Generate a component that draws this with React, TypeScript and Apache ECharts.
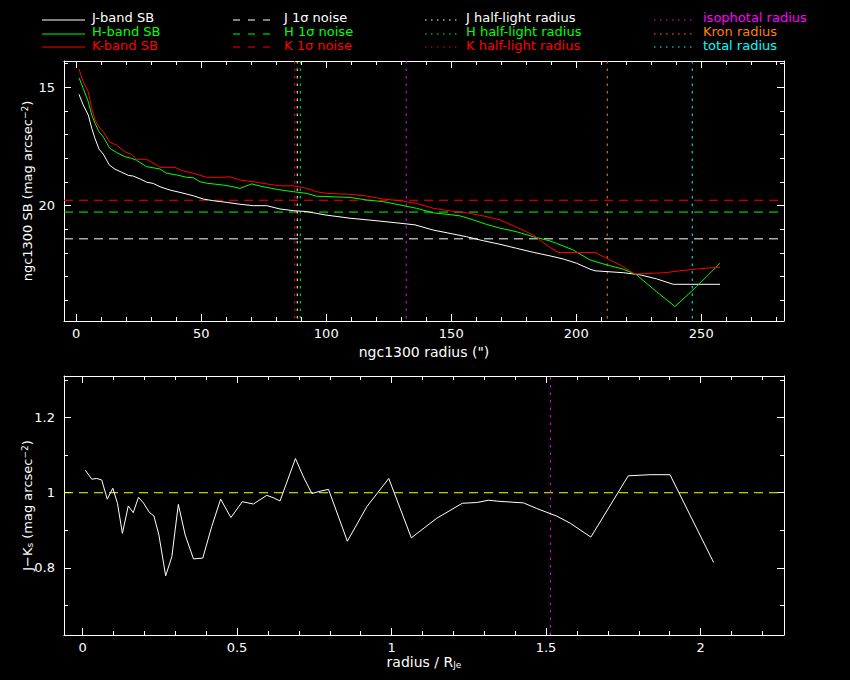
import React, { useEffect, useRef } from "react";
import * as echarts from "echarts";

// ---------- data ----------
// surface-brightness profiles: [radius (arcsec), SB (mag arcsec^-2)]
const J_SB: number[][] = [
  [1.1, 15.3], [2.8, 15.75], [4.8, 16.17], [6.2, 16.73], [7.5, 17.16], [9.1, 17.61], [10.8, 17.82],
  [13.2, 18.28], [15.5, 18.46], [18.2, 18.59], [20.8, 18.72], [22.8, 18.75], [25.5, 18.87], [28.2, 19.01],
  [30.8, 19.06], [33.5, 19.2], [37.5, 19.34], [41.5, 19.44], [46.8, 19.58], [50.8, 19.72], [54.8, 19.79],
  [60.2, 19.86], [65.5, 19.94], [70.8, 20.0], [76.2, 20.0], [81.5, 20.14], [86.8, 20.21], [92.2, 20.25],
  [99.5, 20.39], [109.5, 20.53], [119.5, 20.63], [129.5, 20.74], [135.5, 20.81], [142.8, 21.03],
  [149.5, 21.17], [156.1, 21.31], [162.8, 21.48], [169.5, 21.63], [176.1, 21.8], [182.8, 21.97],
  [189.5, 22.12], [194.8, 22.25], [200.1, 22.43], [205.5, 22.68], [207.5, 22.75], [218.8, 22.83],
  [225.5, 22.92], [232.1, 23.09], [238.8, 23.32], [245.5, 23.32], [257.5, 23.32],
];
const H_SB: number[][] = [
  [1.1, 14.6], [2.8, 15.05], [4.8, 15.61], [6.2, 16.17], [7.5, 16.52], [9.1, 16.88], [10.8, 17.09],
  [13.4, 17.58], [16.1, 17.75], [19.4, 17.93], [22.1, 18.0], [24.1, 18.08], [28.1, 18.35], [33.5, 18.45],
  [36.1, 18.63], [40.1, 18.7], [44.1, 18.8], [46.8, 18.82], [49.5, 18.99], [52.1, 19.05], [58.8, 19.13],
  [62.8, 19.2], [65.5, 19.27], [70.2, 19.08], [73.5, 19.17], [80.2, 19.31], [86.8, 19.41], [92.2, 19.48],
  [96.1, 19.6], [109.5, 19.65], [116.1, 19.76], [122.8, 19.83], [129.5, 19.97], [136.1, 20.11],
  [142.8, 20.3], [149.5, 20.38], [153.5, 20.43], [158.8, 20.6], [164.1, 20.79], [169.5, 20.95],
  [176.1, 21.1], [182.8, 21.31], [189.5, 21.49], [192.1, 21.59], [198.8, 21.87], [205.5, 22.29],
  [212.1, 22.5], [218.8, 22.68], [224.1, 22.92], [232.1, 23.63], [239.5, 24.26], [248.1, 23.42],
  [257.5, 22.43],
];
const K_SB: number[][] = [
  [1.1, 14.23], [2.8, 14.77], [4.8, 15.19], [6.2, 15.89], [7.5, 16.38], [9.1, 16.67], [10.8, 16.88],
  [13.4, 17.32], [16.1, 17.44], [19.4, 17.72], [22.1, 17.83], [24.1, 18.04], [28.1, 18.04], [31.5, 18.25],
  [33.5, 18.38], [39.5, 18.38], [42.8, 18.54], [46.8, 18.63], [52.1, 18.8], [58.8, 18.8], [61.5, 18.78],
  [65.5, 18.92], [70.8, 18.99], [76.1, 19.08], [81.5, 19.16], [86.8, 19.16], [92.2, 19.27], [96.1, 19.41],
  [100.1, 19.48], [109.5, 19.52], [116.1, 19.59], [122.8, 19.72], [129.5, 19.79], [136.1, 19.9],
  [142.8, 20.11], [149.5, 20.22], [156.1, 20.3], [162.8, 20.43], [169.5, 20.6], [176.1, 20.91],
  [182.8, 21.24], [189.5, 21.76], [192.8, 21.98], [207.5, 21.98], [212.1, 22.22], [217.5, 22.5],
  [223.5, 22.89], [226.8, 22.87], [235.5, 22.83], [241.5, 22.75], [248.1, 22.68], [252.1, 22.64],
  [257.5, 22.6],
];

// 1-sigma noise levels (mag arcsec^-2)
const J_NOISE = 21.4;
const H_NOISE = 20.27;
const K_NOISE = 19.77;

// characteristic radii (arcsec)
const J_HALF = 88.4;
const H_HALF = 89.6;
const K_HALF = 87.4;
const ISO_R = 132.0;
const KRON_R = 212.4;
const TOTAL_R = 246.4;

// J-Ks colour profile: [radius / R_Je, J-Ks]
const JK_COLOR: number[][] = [
  [0.009, 1.06], [0.03, 1.036], [0.046, 1.038], [0.062, 1.034], [0.08, 0.983], [0.098, 1.012],
  [0.113, 0.972], [0.129, 0.892], [0.148, 0.965], [0.164, 0.947], [0.181, 0.988], [0.197, 0.973],
  [0.216, 0.948], [0.231, 0.938], [0.247, 0.888], [0.269, 0.779], [0.289, 0.83], [0.31, 0.969],
  [0.332, 0.888], [0.359, 0.824], [0.389, 0.826], [0.418, 0.91], [0.447, 0.983], [0.48, 0.934],
  [0.517, 0.976], [0.553, 0.97], [0.596, 0.993], [0.617, 0.987], [0.639, 0.978], [0.689, 1.091],
  [0.715, 1.042], [0.742, 0.998], [0.769, 1.004], [0.796, 1.009], [0.857, 0.871], [0.92, 0.963],
  [0.991, 1.038], [1.064, 0.88], [1.146, 0.932], [1.229, 0.972], [1.276, 0.974], [1.313, 0.98],
  [1.351, 0.977], [1.427, 0.973], [1.47, 0.958], [1.534, 0.938], [1.578, 0.919], [1.645, 0.882],
  [1.766, 1.045], [1.836, 1.048], [1.901, 1.048], [2.042, 0.815],
];
const JK_REF = 1.0;
const ISO_R_NORM = 1.514;

// axis ranges
const R_RANGE = [-4.9, 283.1];
const SB_RANGE = [13.89, 24.87];
const RN_RANGE = [-0.06, 2.27];
const JK_RANGE = [0.6215, 1.3106];

// tick values
const R_MAJOR = [0, 50, 100, 150, 200, 250];
const R_MINOR = [10, 20, 30, 40, 60, 70, 80, 90, 110, 120, 130, 140, 160, 170, 180, 190, 210, 220, 230, 240, 260, 270, 280];
const SB_MAJOR = [15, 20];
const SB_MINOR = [14, 16, 17, 18, 19, 21, 22, 23, 24];
const RN_MAJOR = [0, 0.5, 1, 1.5, 2];
const RN_MINOR = [0.1, 0.2, 0.3, 0.4, 0.6, 0.7, 0.8, 0.9, 1.1, 1.2, 1.3, 1.4, 1.6, 1.7, 1.8, 1.9, 2.1, 2.2];
const JK_MAJOR = [0.8, 1, 1.2];
const JK_MINOR = [0.7, 0.9, 1.1, 1.3];

// ---------- styles ----------
const WHITE = "#ffffff";
const GREEN = "#00ff00";
const RED = "#ff0000";
const MAGENTA = "#ff00ff";
const ORANGE = "#ff8000";
const CYAN = "#00ffff";
const YELLOW = "#ffff00";
const FONT = "DejaVu Sans";
const DASH = [9, 6];
const DOT = [2.5, 5];

const LEGEND = [
  { col: 0, row: 0, label: "J-band SB", color: WHITE, dash: null },
  { col: 0, row: 1, label: "H-band SB", color: GREEN, dash: null },
  { col: 0, row: 2, label: "K-band SB", color: RED, dash: null },
  { col: 1, row: 0, label: "J 1σ noise", color: WHITE, dash: [7, 8] },
  { col: 1, row: 1, label: "H 1σ noise", color: GREEN, dash: [7, 8] },
  { col: 1, row: 2, label: "K 1σ noise", color: RED, dash: [7, 8] },
  { col: 2, row: 0, label: "J half-light radius", color: WHITE, dash: [1.5, 4.5] },
  { col: 2, row: 1, label: "H half-light radius", color: GREEN, dash: [1.5, 4.5] },
  { col: 2, row: 2, label: "K half-light radius", color: RED, dash: [1.5, 4.5] },
  { col: 3, row: 0, label: "isophotal radius", color: MAGENTA, dash: [1.5, 4.5] },
  { col: 3, row: 1, label: "Kron radius", color: ORANGE, dash: [1.5, 4.5] },
  { col: 3, row: 2, label: "total radius", color: CYAN, dash: [1.5, 4.5] },
];
const LEG_COLS = [
  { x1: 42, x2: 85, tx: 92 },
  { x1: 233, x2: 278, tx: 284 },
  { x1: 425, x2: 457, tx: 466 },
  { x1: 654, x2: 693, tx: 703 },
];
const LEG_ROW_TEXT = [17, 31, 45];
const LEG_ROW_LINE = [20, 34, 47];

const richText = {
  sup: { fontSize: 9, fontFamily: FONT, color: WHITE, verticalAlign: "top", lineHeight: 14 },
  sub: { fontSize: 9, fontFamily: FONT, color: WHITE, verticalAlign: "bottom", lineHeight: 14 },
};

function axisSet(
  dim: "x" | "y",
  gridIndex: number,
  range: number[],
  major: number[],
  minor: number[],
  extra: any
) {
  const pos = dim === "x" ? ["bottom", "top"] : ["left", "right"];
  const base = {
    type: "value",
    gridIndex,
    min: range[0],
    max: range[1],
    inverse: !!extra.inverse,
    splitLine: { show: false },
    silent: true,
  };
  const tick = (vals: number[], len: number) => ({
    show: true,
    inside: true,
    length: len,
    customValues: vals,
    lineStyle: { color: WHITE, width: 1 },
  });
  const noLabel = { show: false };
  const axes: any[] = [];
  pos.forEach((p, i) => {
    axes.push({
      ...base,
      position: p,
      axisLine: { show: true, onZero: false, lineStyle: { color: WHITE, width: 1 } },
      axisTick: tick(major, 7),
      axisLabel:
        i === 0
          ? {
              show: true,
              customValues: major,
              color: WHITE,
              fontSize: 13,
              fontFamily: FONT,
              margin: dim === "x" ? 6 : 9,
            }
          : noLabel,
      ...(i === 0 ? extra.name : {}),
    });
    axes.push({
      ...base,
      position: p,
      axisLine: { show: false, onZero: false },
      axisTick: tick(minor, 4),
      axisLabel: noLabel,
    });
  });
  return axes;
}

function lineSeries(data: number[][], color: string, dash: any, xi: number, yi: number, z = 2) {
  return {
    type: "line",
    data,
    xAxisIndex: xi,
    yAxisIndex: yi,
    symbol: "none",
    silent: true,
    z,
    lineStyle: { color, width: 1, type: dash },
  };
}

function buildOption() {
  const xAxis = [
    ...axisSet("x", 0, R_RANGE, R_MAJOR, R_MINOR, {
      name: {
        name: "ngc1300 radius (\")",
        nameLocation: "middle",
        nameGap: 24,
        nameMoveOverlap: false,
        nameTextStyle: { color: WHITE, fontSize: 14, fontFamily: FONT },
      },
    }),
    ...axisSet("x", 1, RN_RANGE, RN_MAJOR, RN_MINOR, {
      name: {
        name: "radius / R{sub|Je}",
        nameLocation: "middle",
        nameGap: 20,
        nameMoveOverlap: false,
        nameTextStyle: { color: WHITE, fontSize: 14, fontFamily: FONT, rich: richText },
      },
    }),
  ];
  const yAxis = [
    ...axisSet("y", 0, SB_RANGE, SB_MAJOR, SB_MINOR, {
      inverse: true,
      name: {
        name: "ngc1300 SB (mag arcsec{sup|−2})",
        nameLocation: "middle",
        nameGap: 30,
        nameMoveOverlap: false,
        nameTextStyle: { color: WHITE, fontSize: 13, fontFamily: FONT, rich: richText },
      },
    }),
    ...axisSet("y", 1, JK_RANGE, JK_MAJOR, JK_MINOR, {
      name: {
        name: "J−K{sub|s} (mag arcsec{sup|−2})",
        nameLocation: "middle",
        nameGap: 30,
        nameMoveOverlap: false,
        nameTextStyle: { color: WHITE, fontSize: 13, fontFamily: FONT, rich: richText },
      },
    }),
  ];

  const hLine = (v: number, range: number[]) => [
    [range[0], v],
    [range[1], v],
  ];
  const vLine = (v: number, range: number[]) => [
    [v, range[0]],
    [v, range[1]],
  ];

  const series = [
    lineSeries(hLine(J_NOISE, R_RANGE), WHITE, DASH, 0, 0, 1),
    lineSeries(hLine(H_NOISE, R_RANGE), GREEN, DASH, 0, 0, 1),
    lineSeries(hLine(K_NOISE, R_RANGE), RED, DASH, 0, 0, 1),
    lineSeries(vLine(K_HALF, SB_RANGE), RED, DOT, 0, 0, 1),
    lineSeries(vLine(J_HALF, SB_RANGE), WHITE, DOT, 0, 0, 1),
    lineSeries(vLine(H_HALF, SB_RANGE), GREEN, DOT, 0, 0, 1),
    lineSeries(vLine(ISO_R, SB_RANGE), MAGENTA, DOT, 0, 0, 1),
    lineSeries(vLine(KRON_R, SB_RANGE), ORANGE, DOT, 0, 0, 1),
    lineSeries(vLine(TOTAL_R, SB_RANGE), CYAN, DOT, 0, 0, 1),
    lineSeries(J_SB, WHITE, "solid", 0, 0),
    lineSeries(H_SB, GREEN, "solid", 0, 0),
    lineSeries(K_SB, RED, "solid", 0, 0),
    lineSeries(hLine(JK_REF, RN_RANGE), YELLOW, DASH, 4, 4, 1),
    lineSeries(vLine(ISO_R_NORM, JK_RANGE), MAGENTA, DOT, 4, 4, 1),
    lineSeries(JK_COLOR, WHITE, "solid", 4, 4),
  ];

  const graphic: any[] = [];
  LEGEND.forEach((it) => {
    const c = LEG_COLS[it.col];
    graphic.push({
      type: "line",
      silent: true,
      shape: { x1: c.x1, y1: LEG_ROW_LINE[it.row], x2: c.x2, y2: LEG_ROW_LINE[it.row] },
      style: { stroke: it.color, lineWidth: 1, lineDash: it.dash || undefined },
    });
    graphic.push({
      type: "text",
      silent: true,
      x: c.tx,
      y: LEG_ROW_TEXT[it.row],
      style: {
        text: it.label,
        fill: it.color,
        fontSize: 13,
        fontFamily: FONT,
        align: "left",
        verticalAlign: "middle",
      },
    });
  });

  return {
    animation: false,
    backgroundColor: "#000000",
    grid: [
      { left: 64, top: 61, width: 720, height: 260, containLabel: false },
      { left: 64, top: 376, width: 720, height: 259, containLabel: false },
    ],
    xAxis,
    yAxis,
    series,
    graphic,
  };
}

export default function App() {
  const ref = useRef<HTMLDivElement>(null);
  useEffect(() => {
    document.body.style.margin = "0";
    document.body.style.background = "#000";
    const chart = echarts.init(ref.current as HTMLDivElement, null, { renderer: "svg" });
    chart.setOption(buildOption() as any);
    return () => chart.dispose();
  }, []);
  return (
    <div
      ref={ref}
      style={{ position: "absolute", left: 0, top: 0, width: 850, height: 680, background: "#000" }}
    />
  );
}
